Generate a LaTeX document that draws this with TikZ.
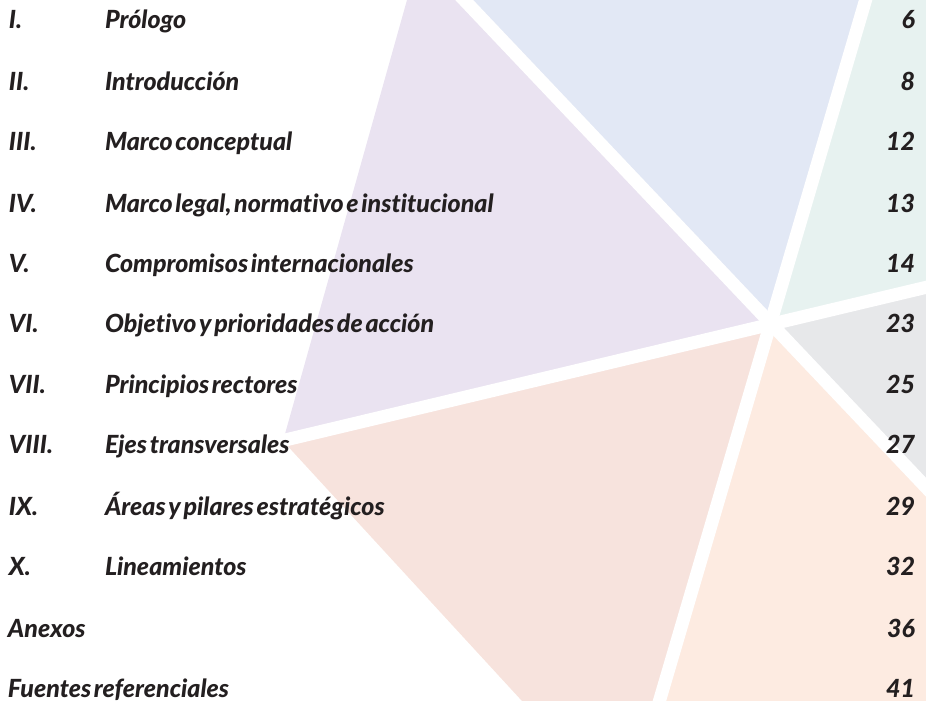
\documentclass[tikz,border=0pt]{standalone}
\usepackage{fontspec}
\setmainfont{Lato}[WordSpace=0.5,Ligatures=NoCommon]
\IfFontExistsTF{Lato Black Italic}
  {\newfontfamily\tocf{Lato Black Italic}[WordSpace=0.5,Ligatures=NoCommon]\newcommand\tocsel{\tocf}}
  {\newcommand\tocsel{\bfseries\itshape}}
\definecolor{cpurple}{HTML}{EAE3F1}
\definecolor{cblue}{HTML}{E2E8F5}
\definecolor{cteal}{HTML}{E7F2F0}
\definecolor{cgray}{HTML}{E7E8EA}
\definecolor{cpink}{HTML}{F7E3DD}
\definecolor{cpeach}{HTML}{FDEBE1}
\definecolor{ink}{HTML}{231F20}
\begin{document}
\begin{tikzpicture}[x=1pt,y=-1pt,
  gap/.style={draw=white,line width=13pt},
  txt/.style={inner sep=0pt,outer sep=0pt,text=ink,font=\tocsel\fontsize{25}{29}\selectfont},
  numl/.style={txt,anchor=base west},
  ttl/.style={txt,anchor=base west},
  pg/.style={txt,anchor=base east}]
\useasboundingbox (0,0) rectangle (926,701);
\begin{scope}
\clip (0,0) rectangle (926,701);
\coordinate (C) at (769,323);
\fill[cpurple] (407,0) -- (470,0) -- (C) -- (283,441) -- cycle;
\fill[cblue] (464,0) -- (866,0) -- (C) -- cycle;
\fill[cteal] (866,0) -- (926,0) -- (926,287) -- (C) -- cycle;
\fill[cgray] (C) -- (926,287) -- (926,487) -- cycle;
\fill[cpeach] (C) -- (926,487) -- (926,701) -- (660,701) -- cycle;
\fill[cpink] (C) -- (283,441) -- (522,701) -- (660,701) -- cycle;
\coordinate (a1) at (450,-15);
\coordinate (a2) at (940,502);
\coordinate (b1) at (870,-15);
\coordinate (b2) at (655,716);
\coordinate (c1) at (260,446);
\coordinate (c2) at (940,284);
\draw[gap] (a1) -- (a2);
\draw[gap] (b1) -- (b2);
\draw[gap] (c1) -- (c2);
\end{scope}
\node[numl] (r1) at (9,29) {I.};
\node[numl] (r2) at (9,90) {II.};
\node[numl] (r3) at (9,150) {III.};
\node[numl] (r4) at (9,212) {IV.};
\node[numl] (r5) at (9,272) {V.};
\node[numl] (r6) at (9,332) {VI.};
\node[numl] (r7) at (9,393) {VII.};
\node[numl] (r8) at (9,453) {VIII.};
\node[numl] (r9) at (9,515) {IX.};
\node[numl] (r10) at (9,575) {X.};
\node[ttl] (t1) at (105,29) {Prólogo};
\node[ttl] (t2) at (105,90) {Introducción};
\node[ttl] (t3) at (105,150) {Marco conceptual};
\node[ttl] (t4) at (105,212) {Marco legal, normativo e institucional};
\node[ttl] (t5) at (105,272) {Compromisos internacionales};
\node[ttl] (t6) at (105,332) {Objetivo y prioridades de acción};
\node[ttl] (t7) at (105,393) {Principios rectores};
\node[ttl] (t8) at (105,453) {Ejes transversales};
\node[ttl] (t9) at (105,515) {Áreas y pilares estratégicos};
\node[ttl] (t10) at (105,575) {Lineamientos};
\node[ttl] (t11) at (8,637) {Anexos};
\node[ttl] (t12) at (8,697) {Fuentes referenciales};
\node[pg] (p1) at (915,29) {6};
\node[pg] (p2) at (915,90) {8};
\node[pg] (p3) at (915,150) {12};
\node[pg] (p4) at (915,212) {13};
\node[pg] (p5) at (915,272) {14};
\node[pg] (p6) at (915,332) {23};
\node[pg] (p7) at (915,393) {25};
\node[pg] (p8) at (915,453) {27};
\node[pg] (p9) at (915,515) {29};
\node[pg] (p10) at (915,575) {32};
\node[pg] (p11) at (915,637) {36};
\node[pg] (p12) at (915,697) {41};
\end{tikzpicture}
\end{document}
